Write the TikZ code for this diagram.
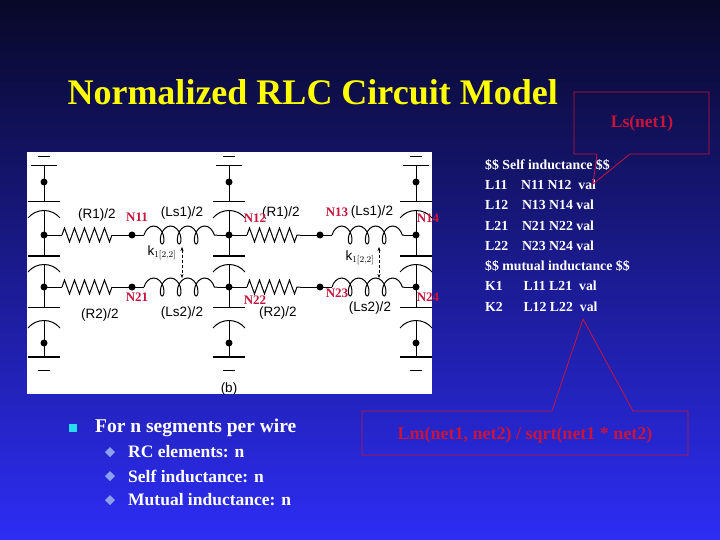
\documentclass[tikz,border=0pt]{standalone}
\usepackage{fontspec}
\setmainfont{Liberation Serif}
\setsansfont{Liberation Sans}
\usetikzlibrary{decorations.pathmorphing,arrows.meta}
\definecolor{crim}{RGB}{200,20,60}
\definecolor{ttl}{RGB}{255,255,0}
\definecolor{sqcol}{RGB}{40,220,240}
\definecolor{dmcol}{RGB}{140,160,240}
\tikzset{
  lbl/.style={font=\sffamily\fontsize{13.5}{13.5}\selectfont, inner sep=0},
  nlbl/.style={font=\bfseries\fontsize{13}{13}\selectfont, text=crim, inner sep=0},
  dot/.style={fill=black, circle, inner sep=0, minimum size=7pt},
  resis/.style={decorate, decoration={zigzag, segment length=10pt, amplitude=7pt}},
  induct/.style={decorate, decoration={coil, aspect=0.6, segment length=17pt, amplitude=9pt}},
  callout/.style={draw=crim, line width=0.8pt},
}
\begin{document}
\begin{tikzpicture}[x=1pt, y=-1pt]
\shade[top color={rgb,255:red,8;green,8;blue,40}, bottom color={rgb,255:red,45;green,45;blue,245}]
  (0,0) rectangle (720,540);
\useasboundingbox (0,0) rectangle (720,540);

\node[font=\bfseries\fontsize{36}{36}\selectfont, text=ttl, anchor=west] (title) at (64,92) {Normalized RLC Circuit Model};

% circuit picture
\fill[white] (27,152) rectangle (432,394);
\begin{scope}[line width=1pt]
\foreach \x in {44,229,416} {
  % ground, capacitors and dots
  \draw (\x-6,157) -- (\x+6,157) (\x-13,166) -- (\x+13,166);
  \draw (\x,166) -- (\x,202);
  \node[dot] at (\x,182) {};
  \draw (\x-16,202) -- (\x+16,202);
  \draw (\x-16,218) .. controls (\x-8,208) and (\x+8,208) .. (\x+16,218);
  \draw (\x,211) -- (\x,256);
  \draw[line width=2pt] (\x-16,256) -- (\x+16,256);
  \draw (\x-16,272) .. controls (\x-8,262) and (\x+8,262) .. (\x+16,272);
  \draw (\x,265) -- (\x,307);
  \draw (\x-16,307) -- (\x+16,307);
  \draw (\x-16,328) .. controls (\x-8,318) and (\x+8,318) .. (\x+16,328);
  \draw (\x,321) -- (\x,357);
  \node[dot] at (\x,343) {};
  \draw[line width=2pt] (\x-16,357) -- (\x+16,357);
  \draw (\x-6,370) -- (\x+6,370);
  \node[dot] at (\x,235) {};
  \node[dot] at (\x,287) {};
}
\foreach \y in {235,287} {
  \foreach \a/\b/\n in {44/229/132, 229/416/320} {
    \draw (\a,\y) -- (\a+18,\y);
    \draw[resis] (\a+18,\y) -- (\n-20,\y);
    \draw (\n-20,\y) -- (\n,\y);
    \node[dot] (m\n\y) at (\n,\y) {};
    \draw (\n,\y) -- (\n+12,\y);
    \draw[induct] (\n+12,\y) -- (\b-12,\y);
    \draw (\b-12,\y) -- (\b,\y);
  }
}
\end{scope}
\draw[densely dashed, {Stealth[length=4pt]}-{Stealth[length=4pt]}] (182,247) -- (182,278);
\draw[densely dashed, {Stealth[length=4pt]}-{Stealth[length=4pt]}] (379,247) -- (379,278);

\node[lbl] at (97,215) {(R1)/2};
\node[lbl] at (182,213) {(Ls1)/2};
\node[lbl] at (281,213) {(R1)/2};
\node[lbl] at (372,212) {(Ls1)/2};
\node[lbl] at (100,315) {(R2)/2};
\node[lbl] at (182,313) {(Ls2)/2};
\node[lbl] at (278,313) {(R2)/2};
\node[lbl] at (370,308) {(Ls2)/2};
\node[lbl] at (162,253) {k$_{1[2,2]}$};
\node[lbl] at (360,258) {k$_{1[2,2]}$};
\node[lbl] at (229,389) {(b)};

\node[nlbl] at (137,217) {N11};
\node[nlbl] at (255,218) {N12};
\node[nlbl] at (337,212) {N13};
\node[nlbl] at (428,218) {N14};
\node[nlbl] at (137,297) {N21};
\node[nlbl] at (255,300) {N22};
\node[nlbl] at (337,293) {N23};
\node[nlbl] at (428,297) {N24};

% netlist text
\node[text=white, font=\bfseries\fontsize{13.8}{20.3}\selectfont, anchor=north west, align=left, inner sep=0] (net) at (485,159) {
\$\$ Self inductance \$\$\\
L11\quad N11 N12\ \ val\\
L12\quad N13 N14 val\\
L21\quad N21 N22 val\\
L22\quad N23 N24 val\\
\$\$ mutual inductance \$\$\\
K1\quad\ \ L11 L21\ \ val\\
K2\quad\ \ L12 L22\ \ val};

% callouts
\draw[callout] (597,154) -- (574,154) -- (574,92) -- (709,92) -- (709,154) -- (630,154) -- (593,184) -- cycle;
\node[font=\bfseries\fontsize{17.5}{17.5}\selectfont, text=crim] (ls) at (642,123) {Ls(net1)};
\draw[callout] (552,411) -- (362,411) -- (362,455) -- (688,455) -- (688,411) -- (633,411) -- (583,319) -- cycle;
\node[font=\bfseries\fontsize{18}{18}\selectfont, text=crim] (lm) at (525,435) {Lm(net1, net2) / sqrt(net1 * net2)};

% bullets
\fill[sqcol] (69,424) rectangle (77,432);
\node[text=white, font=\bfseries\fontsize{19.5}{19.5}\selectfont, anchor=west, inner sep=0] (b1) at (95,428) {For n segments per wire};
\foreach \y/\t in {452/RC elements: n, 476/Self inductance: n, 500/Mutual inductance: n} {
  \fill[dmcol] (110,\y-5) -- (115,\y) -- (110,\y+5) -- (105,\y) -- cycle;
  \node[text=white, font=\bfseries\fontsize{17.5}{17.5}\selectfont, anchor=west, inner sep=0] at (128,\y) {\t};
}
\end{tikzpicture}
\end{document}
